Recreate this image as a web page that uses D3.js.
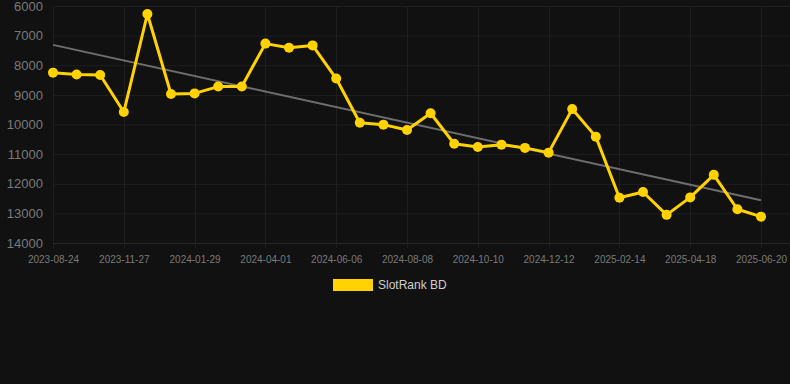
<!DOCTYPE html>
<meta charset="utf-8">
<style>
body { margin: 0; background: #111111; }
svg { display: block; font-family: "Liberation Sans", Arial, sans-serif; }
.grid line { stroke: #1f1f1f; stroke-width: 1; }
.axis text { fill: #7a7a7a; }
.axis path, .axis line { stroke: none; }
</style>
<body>
<svg width=790 height=384></svg>
<script src="https://cdn.jsdelivr.net/npm/d3@7"></script>
<script>
// dates (only every 3rd is labelled)
const dates = [
  "2023-08-24", "2023-09-25", "2023-10-26", "2023-11-27", "2023-12-18", "2024-01-08",
  "2024-01-29", "2024-02-19", "2024-03-11", "2024-04-01", "2024-04-23", "2024-05-15",
  "2024-06-06", "2024-06-27", "2024-07-18", "2024-08-08", "2024-08-29", "2024-09-19",
  "2024-10-10", "2024-10-31", "2024-11-21", "2024-12-12", "2025-01-02", "2025-01-23",
  "2025-02-14", "2025-03-07", "2025-03-28", "2025-04-18", "2025-05-09", "2025-05-30",
  "2025-06-20"
]
const ranks = [
  8250, 8310, 8330, 9580, 6270, 8970, 8950, 8720, 8720, 7270, 7410, 7330,
  8450, 9940, 10005, 10185, 9620, 10650, 10760, 10680, 10790, 10950, 9480, 10410,
  12470, 12280, 13050, 12460, 11700, 12860, 13110
]
const yTicks = [6000, 7000, 8000, 9000, 10000, 11000, 12000, 13000, 14000]
const seriesName = "SlotRank BD"

const svg = d3.select("svg")
const x = d3.scalePoint().domain(dates).range([53, 761])
const y = d3.scaleLinear().domain([6000, 14000]).range([6, 243])
const xTicks = dates.filter((d, i) => i % 3 == 0)

// grid
const grid = svg.append("g").attr("class", "grid")
grid.selectAll(".h").data(yTicks).enter().append("line")
  .attr("x1", 53).attr("x2", 790)
  .attr("y1", (d) => y(d) + 0.5).attr("y2", (d) => y(d) + 0.5)
  .style("stroke", (d) => d == 14000 ? "#272727" : null)
grid.selectAll(".v").data(xTicks).enter().append("line")
  .attr("x1", (d) => Math.round(x(d)) + 0.5).attr("x2", (d) => Math.round(x(d)) + 0.5)
  .attr("y1", 6).attr("y2", 248)

// axes
svg.append("g").attr("class", "axis")
  .attr("transform", "translate(43,0)")
  .call(d3.axisLeft(y).tickValues(yTicks).tickSize(0).tickPadding(0).tickFormat(d3.format("d")))
  .call((g) => g.selectAll("text").style("font-size", "13px"))
svg.append("g").attr("class", "axis")
  .attr("transform", "translate(0,254)")
  .call(d3.axisBottom(x).tickValues(xTicks).tickSize(0).tickPadding(2))
  .call((g) => g.selectAll("text").style("font-size", "10px"))

// trend line (least squares)
const n = ranks.length
const mi = (n - 1) / 2
const mv = d3.mean(ranks)
const slope = d3.sum(ranks, (v, i) => (i - mi) * (v - mv)) / d3.sum(ranks, (v, i) => (i - mi) * (i - mi))
const trend = [0, n - 1].map((i) => [dates[i], mv + slope * (i - mi)])
svg.append("line")
  .attr("x1", x(trend[0][0])).attr("y1", y(trend[0][1]))
  .attr("x2", x(trend[1][0])).attr("y2", y(trend[1][1]))
  .attr("stroke", "#6e6e6e").attr("stroke-width", 2)

// series
const pts = dates.map((d, i) => ({date: d, v: ranks[i]}))
svg.append("path").datum(pts)
  .attr("fill", "none").attr("stroke", "#FFD200").attr("stroke-width", 3)
  .attr("stroke-linejoin", "round")
  .attr("d", d3.line().x((d) => x(d.date)).y((d) => y(d.v)))
svg.selectAll(".pt").data(pts).enter().append("circle")
  .attr("cx", (d) => x(d.date)).attr("cy", (d) => y(d.v)).attr("r", 5)
  .attr("fill", "#FFD200")

// legend
const lg = svg.append("g").attr("transform", "translate(333,279)")
lg.append("rect").attr("width", 40).attr("height", 12).attr("fill", "#FFD200")
lg.append("text").attr("x", 45).attr("y", 10).text(seriesName)
  .attr("fill", "#cfcfcf").style("font-size", "12px")
</script>
</body>
